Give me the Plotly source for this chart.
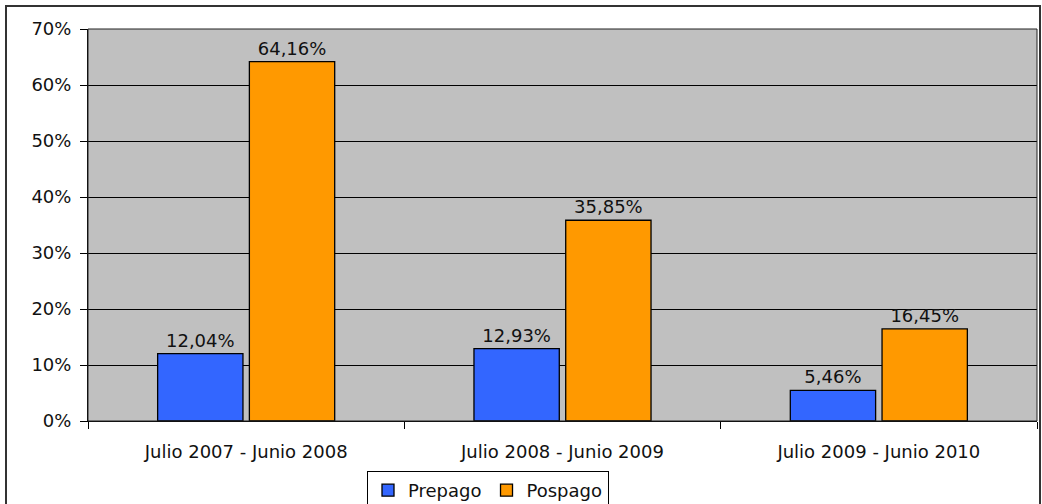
import plotly.graph_objects as go

categories = ["Julio 2007 - Junio 2008", "Julio 2008 - Junio 2009", "Julio 2009 - Junio 2010"]
prepago = [12.04, 12.93, 5.46]
pospago = [64.16, 35.85, 16.45]
y_ticks = [0, 10, 20, 30, 40, 50, 60, 70]
y_tick_labels = [f"{v}%" for v in y_ticks]

def fmt(v):
    return f"{v:.2f}".replace(".", ",") + "%"

FONT = "DejaVu Sans"
FS = 18
fig = go.Figure()
fig.add_trace(go.Bar(name="Prepago", x=categories, y=prepago,
                     text=[fmt(v) for v in prepago], textposition="outside",
                     marker=dict(color="#3366FF", line=dict(color="#000000", width=1.3))))
fig.add_trace(go.Bar(name="Pospago", x=categories, y=pospago,
                     text=[fmt(v) for v in pospago], textposition="outside",
                     marker=dict(color="#FF9900", line=dict(color="#000000", width=1.3))))

fig.update_traces(textfont=dict(family=FONT, size=FS, color="#111111"), cliponaxis=False)

W, H = 1042, 504
L, R, T, B = 88, 1037, 29, 421
def px(x): return (x - L) / (R - L)
def py(y): return (B - y) / (B - T)

fig.update_layout(
    width=W, height=H,
    margin=dict(l=L, r=W - R, t=T, b=H - B, autoexpand=False),
    paper_bgcolor="white", plot_bgcolor="#C0C0C0",
    barmode="group", bargap=0.42, bargroupgap=0.07,
    font=dict(family=FONT, size=FS, color="#111111"),
    showlegend=True,
    legend=dict(orientation="h", x=px(488), xanchor="center", y=py(471), yanchor="top",
                bordercolor="#000000", borderwidth=1, bgcolor="white",
                font=dict(family=FONT, size=FS), traceorder="normal",
                itemwidth=30, tracegroupgap=0),
    xaxis=dict(showgrid=False, ticks="outside", tickson="boundaries", ticklen=7,
               tickcolor="#000000", showline=True, linecolor="#000000", linewidth=1,
               tickfont=dict(family=FONT, size=FS), ticklabelstandoff=14),
    yaxis=dict(range=[0, 70], tickvals=y_ticks, ticktext=y_tick_labels, showgrid=True,
               gridcolor="#000000", gridwidth=1, ticks="outside", ticklen=7,
               tickcolor="#000000", showline=True, linecolor="#000000", linewidth=1,
               zeroline=False, tickfont=dict(family=FONT, size=FS), ticklabelstandoff=5),
    shapes=[
        dict(type="rect", xref="paper", yref="paper", x0=0, x1=1, y0=0, y1=1,
             line=dict(color="#222222", width=1)),
        dict(type="rect", xref="paper", yref="paper", x0=px(6), x1=px(1040), y0=py(6), y1=py(520),
             line=dict(color="#333333", width=2), layer="below"),
    ],
)

fig.write_html("out.html", post_script="document.body.style.margin='0';",
               config={"displayModeBar": False})
